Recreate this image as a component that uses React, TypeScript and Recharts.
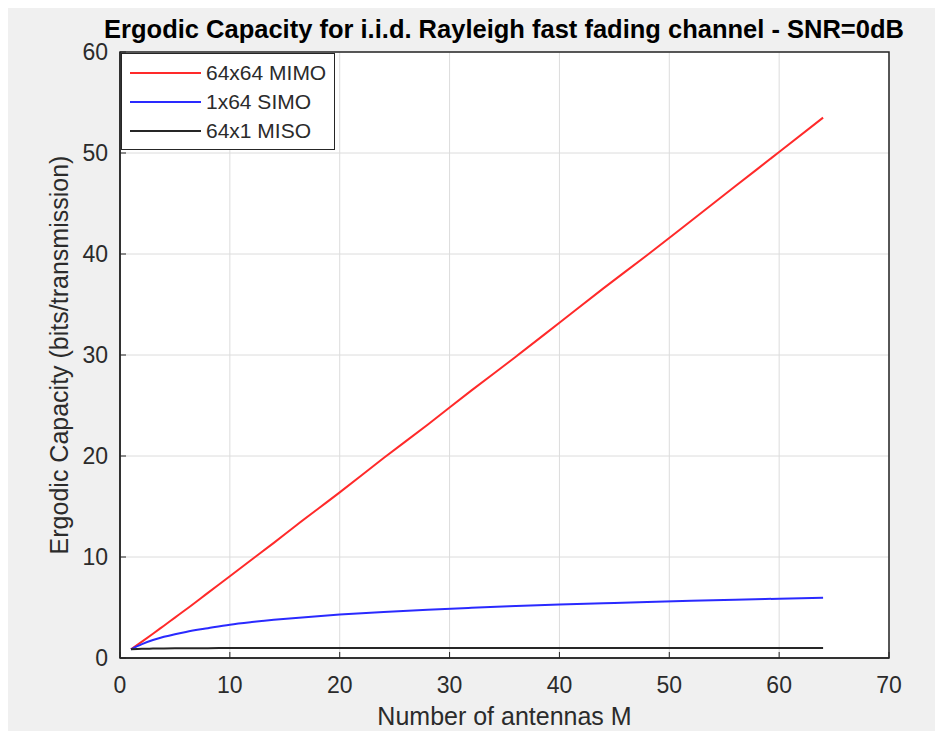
import React from 'react';
import {
  LineChart,
  Line,
  XAxis,
  YAxis,
  CartesianGrid,
  Legend,
  ReferenceArea,
} from 'recharts';

// number of antennas M
const antennas = [1, 2, 3, 4, 5, 6, 8, 10, 12, 14, 16, 20, 24, 28, 32, 36, 40, 44, 48, 52, 56, 60, 64];
// 64x64 MIMO
const mimo = [0.86, 1.62, 2.4, 3.2, 4.0, 4.8, 6.45, 8.1, 9.75, 11.4, 13.1, 16.4, 19.8, 23.1, 26.5, 29.8, 33.2, 36.6, 39.9, 43.3, 46.7, 50.1, 53.5];
// 1x64 SIMO
const simo = [0.86, 1.38, 1.78, 2.1, 2.36, 2.58, 2.95, 3.3, 3.56, 3.78, 3.97, 4.3, 4.56, 4.78, 4.97, 5.14, 5.29, 5.42, 5.55, 5.66, 5.77, 5.87, 5.96];
// 64x1 MISO
const miso = [0.86, 0.91, 0.93, 0.95, 0.96, 0.965, 0.975, 0.98, 0.983, 0.985, 0.987, 0.99, 0.991, 0.992, 0.993, 0.994, 0.995, 0.995, 0.996, 0.996, 0.997, 0.997, 0.997];

const xTicks = [0, 10, 20, 30, 40, 50, 60, 70];
const yTicks = [0, 10, 20, 30, 40, 50, 60];

const SERIES = [
  { key: 'mimo', name: '64x64 MIMO', color: '#ff2a2a' },
  { key: 'simo', name: '1x64 SIMO', color: '#2a2aff' },
  { key: 'miso', name: '64x1 MISO', color: '#262626' },
];

const rows = antennas.map((m, i) => ({ m, mimo: mimo[i], simo: simo[i], miso: miso[i] }));

const FONT = '"Liberation Sans", Arial, Helvetica, sans-serif';
const TEXT = '#2b2b2b';

const LegendBox = () => (
  <div
    style={{
      width: 212,
      height: 91,
      border: '1px solid #262626',
      background: '#fff',
      boxSizing: 'content-box',
      fontFamily: FONT,
      fontSize: 21,
      color: TEXT,
      paddingTop: 4,
    }}
  >
    {SERIES.map((s) => (
      <div key={s.key} style={{ display: 'flex', alignItems: 'center', height: 29 }}>
        <span style={{ display: 'inline-block', width: 71, height: 2, marginLeft: 8, marginRight: 5, background: s.color }} />
        <span>{s.name}</span>
      </div>
    ))}
  </div>
);

export default function App() {
  return (
    <div style={{ position: 'fixed', left: 8, top: 8, right: 0, bottom: 0, background: '#f0f0f0', fontFamily: FONT }}>
      <div
        style={{
          position: 'absolute',
          left: 496,
          top: 8,
          transform: 'translateX(-50%)',
          whiteSpace: 'nowrap',
          fontSize: 25.5,
          fontWeight: 'bold',
          lineHeight: '26px',
          color: '#000',
        }}
      >
        Ergodic Capacity for i.i.d. Rayleigh fast fading channel - SNR=0dB
      </div>
      <LineChart width={927} height={723} data={rows} margin={{ top: 44, right: 46, left: 0, bottom: 0 }}>
        <CartesianGrid fill="#ffffff" stroke="#dcdcdc" strokeWidth={1} />
        <XAxis
          dataKey="m"
          type="number"
          domain={[0, 70]}
          ticks={xTicks}
          height={73}
          tickSize={-6}
          tickMargin={25}
          axisLine={{ stroke: '#262626', strokeWidth: 1.5 }}
          tickLine={{ stroke: '#262626' }}
          tick={{ fill: TEXT, fontSize: 23, fontFamily: FONT }}
          label={{ value: 'Number of antennas M', position: 'insideBottom', offset: 6, fill: TEXT, fontSize: 25, fontFamily: FONT }}
        />
        <XAxis
          xAxisId="top"
          orientation="top"
          type="number"
          domain={[0, 70]}
          ticks={xTicks}
          height={0}
          tickSize={-6}
          tick={false}
          axisLine={false}
          tickLine={{ stroke: '#262626' }}
        />
        <YAxis
          type="number"
          domain={[0, 60]}
          ticks={yTicks}
          width={112}
          tickSize={-6}
          tickMargin={18}
          axisLine={{ stroke: '#262626', strokeWidth: 1.5 }}
          tickLine={{ stroke: '#262626' }}
          tick={{ fill: TEXT, fontSize: 23, fontFamily: FONT }}
          label={{ value: 'Ergodic Capacity (bits/transmission)', angle: -90, position: 'center', dx: -5, fill: TEXT, fontSize: 25, fontFamily: FONT }}
        />
        <YAxis
          yAxisId="right"
          orientation="right"
          type="number"
          domain={[0, 60]}
          ticks={yTicks}
          width={0}
          tickSize={-6}
          tick={false}
          axisLine={false}
          tickLine={{ stroke: '#262626' }}
        />
        <ReferenceArea x1={0} x2={70} y1={0} y2={60} fill="none" stroke="#262626" strokeWidth={1.5} ifOverflow="visible" />
        {SERIES.map((s) => (
          <Line
            key={s.key}
            dataKey={s.key}
            name={s.name}
            type="monotone"
            stroke={s.color}
            strokeWidth={2}
            dot={false}
            isAnimationActive={false}
          />
        ))}
        <Legend
          layout="horizontal"
          verticalAlign="middle"
          align="center"
          wrapperStyle={{ position: 'absolute', left: 113, top: 45, width: 'auto', height: 'auto' }}
          content={() => <LegendBox />}
        />
      </LineChart>
    </div>
  );
}
